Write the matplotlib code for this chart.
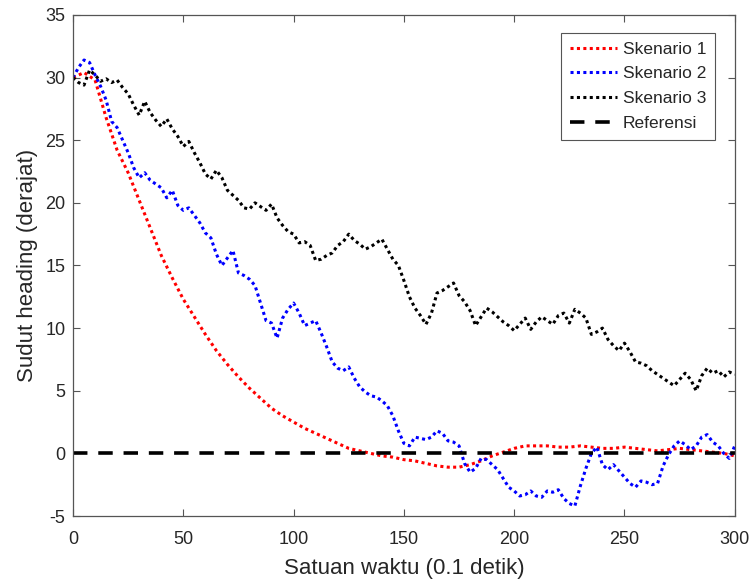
import numpy as np
import matplotlib
matplotlib.use("Agg")
import matplotlib.pyplot as plt

plt.rcParams['font.family'] = ['Liberation Sans', 'DejaVu Sans']
plt.rcParams['axes.unicode_minus'] = False

# ---- data ----
red = [30.0, 30.4, 29.8, 26.8, 24.2, 22.4, 20.2, 18.0, 15.8, 14.0,
       12.3, 10.9, 9.5, 8.2, 7.1, 6.1, 5.2, 4.4, 3.6, 3.0,
       2.5, 2.0, 1.6, 1.2, 0.8, 0.4, 0.2, 0.0, -0.2, -0.3,
       -0.5, -0.6, -0.8, -1.0, -1.1, -1.1, -0.9, -0.6, -0.2, 0.1,
       0.4, 0.6, 0.6, 0.6, 0.5, 0.5, 0.6, 0.5, 0.4, 0.4,
       0.5, 0.4, 0.3, 0.2, 0.3, 0.4, 0.3, 0.2, 0.1, 0.0,
       -0.2]

blue = [30.0, 30.8, 31.4, 31.2, 30.2, 29.3, 28.2, 26.5, 26.0, 25.0,
        24.0, 22.8, 22.0, 22.4, 21.8, 21.5, 21.2, 20.4, 21.0, 19.8,
        19.4, 19.6, 19.0, 18.4, 17.6, 17.2, 15.9, 15.0, 15.6, 16.2,
        14.4, 14.2, 13.9, 13.4, 12.0, 10.6, 10.4, 9.2, 10.8, 11.5,
        12.0, 11.2, 10.2, 10.4, 10.6, 9.6, 8.5, 7.3, 6.8, 6.6,
        6.9, 6.0, 5.3, 4.9, 4.6, 4.5, 4.2, 3.8, 3.0, 1.8,
        0.8, 0.6, 1.3, 1.2, 1.1, 1.3, 1.8, 1.6, 1.0, 0.9,
        0.6, -0.8, -1.5, -1.2, -0.4, -0.5, -0.9, -1.3, -2.0, -2.7,
        -3.0, -3.4, -3.3, -3.0, -3.4, -3.5, -3.0, -3.1, -2.9, -3.6,
        -4.0, -4.2, -2.6, -1.2, 0.0, 0.5, -0.9, -1.3, -0.9, -1.4,
        -1.9, -2.4, -2.7, -2.2, -2.3, -2.5, -2.4, -1.0, -0.1, 0.6,
        1.0, 0.7, 0.3, 0.6, 1.3, 1.5, 0.9, 0.6, 0.0, -0.4,
        0.6]

black = [30.0, 29.6, 29.4, 30.6, 30.2, 29.7, 29.9, 29.6, 29.8, 29.2,
         28.7, 27.8, 27.0, 28.1, 27.2, 26.6, 26.1, 26.7, 25.9, 25.3,
         24.5, 24.9, 24.0, 23.2, 22.3, 21.9, 22.6, 22.0, 21.0, 20.6,
         20.2, 19.6, 19.5, 20.0, 19.7, 19.4, 19.9, 18.8, 18.2, 17.7,
         17.5, 16.8, 16.9, 16.6, 15.4, 15.5, 15.8, 16.0, 16.6, 16.9,
         17.5, 17.0, 16.7, 16.3, 16.5, 16.8, 17.1, 16.3, 15.5, 15.0,
         13.8, 12.5, 11.6, 11.0, 10.3, 11.2, 12.8, 13.0, 13.3, 13.6,
         12.6, 12.1, 11.4, 10.2, 10.9, 11.6, 11.3, 10.9, 10.5, 10.2,
         9.8, 10.3, 10.8, 9.9, 10.5, 10.9, 10.6, 10.3, 11.0, 11.2,
         10.4, 11.5, 11.2, 10.8, 9.5, 9.7, 10.0, 9.1, 8.6, 8.2,
         8.8, 8.1, 7.3, 7.2, 7.0, 6.6, 6.3, 6.0, 5.7, 5.4,
         5.9, 6.4, 5.9, 5.0, 6.2, 6.8, 6.4, 6.6, 6.1, 6.5,
         6.3]

x_red = np.linspace(0, 300, len(red))
x_blue = np.linspace(0, 300, len(blue))
x_black = np.linspace(0, 300, len(black))
ref_x = [0, 300]
ref_y = [0, 0]

labels = ['Skenario 1', 'Skenario 2', 'Skenario 3', 'Referensi']
xticks = [0, 50, 100, 150, 200, 250, 300]
yticks = [-5, 0, 5, 10, 15, 20, 25, 30, 35]

# ---- figure ----
fig = plt.figure(figsize=(7.52, 5.8), dpi=100)
ax = fig.add_axes([0.0971, 0.1103, 0.880, 0.864])

dot = (0, (1, 1.1))
ax.plot(x_red, red, color='#ff0000', lw=2.2, ls=dot, label=labels[0])
ax.plot(x_blue, blue, color='#0000ff', lw=2.2, ls=dot, label=labels[1])
ax.plot(x_black, black, color='#000000', lw=2.2, ls=dot, label=labels[2])
ax.plot(ref_x, ref_y, color='#000000', lw=2.6, ls=(0, (4, 3)), label=labels[3])

ax.set_xlim(0, 300)
ax.set_ylim(-5, 35)
ax.set_xticks(xticks)
ax.set_yticks(yticks)

txt = '#262626'
ax.tick_params(direction='in', top=True, right=True, length=5,
               colors='#555555', labelcolor=txt, labelsize=13, width=0.8)
ax.tick_params(axis='x', pad=11)
ax.tick_params(axis='y', pad=5.5)
for s in ax.spines.values():
    s.set_color('#555555')
    s.set_linewidth(0.9)

ax.set_xlabel('Satuan waktu (0.1 detik)', fontsize=16, color=txt, labelpad=7)
ax.set_ylabel('Sudut heading (derajat)', fontsize=16, color=txt, labelpad=5)

leg = ax.legend(loc='upper right', bbox_to_anchor=(0.97, 0.964),
                borderaxespad=0, fontsize=12.5, handlelength=2.7,
                handletextpad=0.35, labelspacing=0.55, fancybox=False,
                framealpha=1, edgecolor='#555555', borderpad=0.5)
leg.get_frame().set_linewidth(0.8)
for t in leg.get_texts():
    t.set_color(txt)

fig.savefig('out.png', dpi=100)
